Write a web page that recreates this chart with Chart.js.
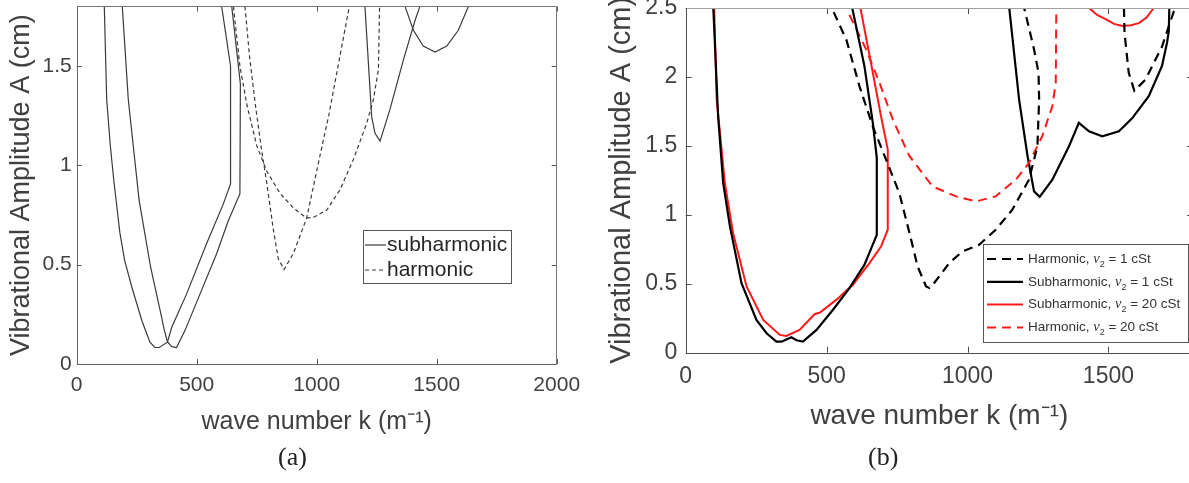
<!DOCTYPE html>
<html lang="en">
<head>
<meta charset="UTF-8" />
<title>Vibrational amplitude vs wave number</title>
<script src="https://cdn.jsdelivr.net/npm/chart.js"></script>
<style>
  html, body { margin: 0; padding: 0; background: #fff; }
  body { width: 1189px; height: 483px; overflow: hidden; position: relative; }
  .panel { position: absolute; top: 0; width: 600px; height: 483px; }
  #panel-a { left: 0; }
  #panel-b { left: 600px; }
  .caption { position: absolute; top: 444px; font: 26px/1 "Liberation Serif", "Times New Roman", serif; color: #222; }
</style>
</head>
<body>
  <div class="panel" id="panel-a"><canvas id="chart-a"></canvas></div>
  <div class="panel" id="panel-b"><canvas id="chart-b"></canvas></div>
  <div class="caption" style="left:278px">(a)</div>
  <div class="caption" style="left:868px">(b)</div>

<script>
// ---- panel (a) ----
const xTicksA = [0, 500, 1000, 1500, 2000];
const yTicksA = [0, 0.5, 1, 1.5];

const subOuterK = [115, 125, 140, 155, 180, 200, 229, 271, 305, 326, 344, 378, 396, 458, 541, 611, 641, 641, 604];
const subOuterA = [1.8, 1.33, 1.1, 0.92, 0.66, 0.52, 0.39, 0.22, 0.11, 0.084, 0.083, 0.11, 0.185, 0.353, 0.605, 0.806, 0.906, 1.5, 1.8];
const subInnerK = [190, 215, 260, 308, 354, 364, 378, 396, 416, 451, 514, 583, 632, 680, 682, 646];
const subInnerA = [1.8, 1.33, 0.825, 0.487, 0.235, 0.176, 0.112, 0.087, 0.083, 0.168, 0.353, 0.555, 0.722, 0.856, 1.41, 1.8];
const subTongue2K = [1201, 1229, 1243, 1264, 1305, 1361, 1410, 1430];
const subTongue2A = [1.8, 1.245, 1.161, 1.122, 1.28, 1.53, 1.73, 1.8];
const subTongue3K = [1368, 1403, 1444, 1493, 1542, 1590, 1632];
const subTongue3A = [1.8, 1.68, 1.6, 1.57, 1.6, 1.68, 1.8];
const harmDeepK = [701, 720, 745, 770, 792, 819, 840, 864, 903, 958, 1005, 1050, 1089, 1136];
const harmDeepA = [1.8, 1.55, 1.3, 1.08, 0.91, 0.68, 0.53, 0.476, 0.557, 0.734, 1.0, 1.25, 1.5, 1.8];
const harmWideK = [653, 680, 710, 750, 792, 847, 903, 958, 990, 1042, 1097, 1153, 1208, 1236, 1257, 1262];
const harmWideA = [1.8, 1.5, 1.3, 1.1, 0.97, 0.86, 0.785, 0.734, 0.74, 0.775, 0.877, 1.03, 1.21, 1.33, 1.48, 1.8];

// ---- panel (b) ----
const xTicksB = [0, 500, 1000, 1500];
const yTicksB = [0, 0.5, 1, 1.5, 2, 2.5];

const harm1K = [525, 570, 617, 664, 711, 758, 794, 823, 853, 865, 876, 935, 982, 1041, 1100, 1159, 1218, 1248, 1254, 1252, 1236, 1201];
const harm1A = [2.47, 2.27, 1.93, 1.64, 1.40, 1.158, 0.868, 0.625, 0.48, 0.47, 0.49, 0.65, 0.734, 0.783, 0.892, 1.037, 1.255, 1.497, 1.836, 2.03, 2.2, 2.5];
const harm1bK = [1555, 1557, 1572, 1592, 1631, 1690, 1731, 1738];
const harm1bA = [2.5, 2.32, 2.03, 1.9, 1.98, 2.22, 2.47, 2.5];
const sub1K = [98, 115, 133, 157, 198, 251, 287, 322, 340, 375, 393, 416, 464, 522, 581, 634, 678, 678, 664, 634, 591];
const sub1A = [2.5, 1.715, 1.23, 0.916, 0.504, 0.238, 0.141, 0.08, 0.08, 0.112, 0.09, 0.08, 0.165, 0.31, 0.468, 0.637, 0.855, 1.413, 1.667, 2.08, 2.5];
const sub1bK = [1148, 1183, 1213, 1236, 1256, 1301, 1360, 1395, 1431, 1478, 1537, 1584, 1643, 1690, 1708, 1714, 1716];
const sub1bA = [2.5, 1.836, 1.425, 1.17, 1.13, 1.255, 1.497, 1.667, 1.606, 1.57, 1.606, 1.70, 1.86, 2.08, 2.25, 2.33, 2.5];
const sub20K = [101, 110, 139, 168, 216, 275, 334, 357, 404, 458, 475, 534, 593, 652, 693, 717, 717, 693, 664, 620];
const sub20A = [2.5, 1.836, 1.23, 0.868, 0.48, 0.238, 0.129, 0.121, 0.165, 0.281, 0.29, 0.383, 0.492, 0.65, 0.77, 0.892, 1.473, 1.715, 2.03, 2.5];
const sub20bK = [1431, 1460, 1490, 1520, 1549, 1580, 1608, 1635, 1661];
const sub20bA = [2.5, 2.45, 2.42, 2.385, 2.37, 2.375, 2.39, 2.43, 2.5];
const harm20K = [581, 640, 688, 735, 794, 876, 959, 1030, 1100, 1171, 1218, 1265, 1301, 1313, 1315];
const harm20A = [2.45, 2.2, 1.956, 1.69, 1.425, 1.206, 1.134, 1.097, 1.134, 1.255, 1.376, 1.57, 1.788, 1.958, 2.5];

const FONT = '"Liberation Sans", Arial, Helvetica, sans-serif';
const TEXT = '#404040';

const pts = (ks, as) => ks.map((k, i) => ({x: k, y: as[i]}));

function line(ks, as, color, width, dash, label) {
  return {
    label: label,
    data: pts(ks, as),
    showLine: true,
    borderColor: color,
    borderWidth: width,
    borderDash: dash || [],
    pointRadius: 0,
    tension: 0,
    fill: false,
    clip: 0
  };
}

// MATLAB style box: border on all sides and inward ticks
const boxAxes = {
  id: 'boxAxes',
  afterDatasetsDraw(chart, args, opts) {
    const {ctx, chartArea: {left, right, top, bottom}, scales: {x, y}} = chart;
    const len = opts.tickLength;
    ctx.save();
    ctx.lineWidth = 1;
    ctx.strokeStyle = opts.tickColor;
    ctx.beginPath();
    x.ticks.forEach(t => {
      const px = Math.round(x.getPixelForValue(t.value)) + 0.5;
      ctx.moveTo(px, bottom); ctx.lineTo(px, bottom - len);
      ctx.moveTo(px, top); ctx.lineTo(px, top + len);
    });
    y.ticks.forEach(t => {
      const py = Math.round(y.getPixelForValue(t.value)) + 0.5;
      ctx.moveTo(left, py); ctx.lineTo(left + len, py);
      ctx.moveTo(right, py); ctx.lineTo(right - len, py);
    });
    ctx.stroke();
    const L = Math.round(left) + 0.5, R = Math.round(right) - 0.5;
    const T = Math.round(top) + 0.5, B = Math.round(bottom) + 0.5;
    const sides = [
      [opts.colors.top, L, T, R, T],
      [opts.colors.right, R, T, R, B],
      [opts.colors.bottom, L, B, R, B],
      [opts.colors.left, L, T, L, B]
    ];
    sides.forEach(([c, x0, y0, x1, y1]) => {
      ctx.strokeStyle = c;
      ctx.beginPath(); ctx.moveTo(x0, y0); ctx.lineTo(x1, y1); ctx.stroke();
    });
    ctx.restore();
  }
};

// legend box drawn inside the axes, entries taken from labelled datasets
const boxLegend = {
  id: 'boxLegend',
  afterDatasetsDraw(chart, args, o) {
    const {ctx} = chart;
    const items = chart.data.datasets.filter(d => d.label);
    ctx.save();
    ctx.fillStyle = '#fff';
    ctx.fillRect(o.x, o.y, o.w, o.h);
    ctx.strokeStyle = o.border;
    ctx.lineWidth = 1;
    ctx.strokeRect(o.x + 0.5, o.y + 0.5, o.w, o.h);
    items.forEach((d, i) => {
      const cy = o.y + o.firstRow + i * o.rowGap;
      ctx.strokeStyle = d.borderColor;
      ctx.lineWidth = d.borderWidth;
      ctx.setLineDash(d.borderDash);
      ctx.beginPath();
      ctx.moveTo(o.x + o.lineX0, cy);
      ctx.lineTo(o.x + o.lineX1, cy);
      ctx.stroke();
      ctx.setLineDash([]);

      ctx.fillStyle = o.color;
      ctx.textBaseline = 'middle';
      let tx = o.x + o.textX;
      const parts = d.label.split('ν₂');
      ctx.font = o.size + 'px ' + FONT;
      ctx.fillText(parts[0], tx, cy);
      tx += ctx.measureText(parts[0]).width;
      if (parts.length > 1) {
        ctx.font = 'italic ' + (o.size + 1) + 'px "Liberation Serif", serif';
        ctx.fillText('ν', tx, cy);
        tx += ctx.measureText('ν').width;
        ctx.font = Math.round(o.size * 0.7) + 'px ' + FONT;
        ctx.fillText('2', tx, cy + o.size * 0.4);
        tx += ctx.measureText('2').width;
        ctx.font = o.size + 'px ' + FONT;
        ctx.fillText(parts[1], tx, cy);
      }
    });
    ctx.restore();
  }
};

function axes(c) {
  return {
    x: {
      type: 'linear', position: 'bottom', min: 0, max: c.xMax,
      afterBuildTicks: s => { s.ticks = c.xTicks.map(v => ({value: v})); },
      afterFit: s => { s.height = c.xHeight; s.paddingLeft = 0; s.paddingRight = 0; },
      grid: {display: false, drawTicks: false},
      border: {display: false},
      ticks: {color: TEXT, font: {family: FONT, size: c.tickSize}, padding: c.xPad, maxRotation: 0, callback: v => String(v)},
      title: {display: true, text: 'wave number k (m⁻¹)', color: TEXT, font: {family: FONT, size: c.xTitleSize}, padding: {top: 0, bottom: c.xTitlePad}}
    },
    y: {
      type: 'linear', min: 0, max: c.yMax,
      afterBuildTicks: s => { s.ticks = c.yTicks.map(v => ({value: v})); },
      afterFit: s => { s.width = c.yWidth; s.paddingTop = 0; s.paddingBottom = 0; },
      grid: {display: false, drawTicks: false},
      border: {display: false},
      ticks: {color: TEXT, font: {family: FONT, size: c.tickSize}, padding: c.yPad, callback: v => String(v)},
      title: {display: true, text: 'Vibrational Amplitude A (cm)', color: TEXT, font: {family: FONT, size: c.yTitleSize}, padding: {top: c.yTitlePad, bottom: 0}}
    }
  };
}

const gA = '#3a3a3a';
new Chart(document.getElementById('chart-a'), {
  type: 'scatter',
  data: {
    datasets: [
      line(subOuterK, subOuterA, gA, 1.2, [], 'subharmonic'),
      line(harmDeepK, harmDeepA, gA, 1.2, [4, 3], 'harmonic'),
      line(subInnerK, subInnerA, gA, 1.2),
      line(subTongue2K, subTongue2A, gA, 1.2),
      line(subTongue3K, subTongue3A, gA, 1.2),
      line(harmWideK, harmWideA, gA, 1.2, [4, 3])
    ]
  },
  options: {
    responsive: true,
    maintainAspectRatio: false,
    animation: false,
    layout: {padding: {left: 0, top: 6.4, right: 43.3, bottom: 0}},
    scales: axes({xMax: 2000, yMax: 1.8, xTicks: xTicksA, yTicks: yTicksA, xHeight: 119, yWidth: 76.7,
      tickSize: 21, xPad: 9, yPad: 5, xTitleSize: 25, xTitlePad: 46, yTitleSize: 27, yTitlePad: 5.5}),
    plugins: {
      legend: {display: false},
      tooltip: {enabled: false},
      boxAxes: {tickLength: 5, tickColor: '#555', colors: {top: '#777', right: '#777', bottom: '#666', left: '#666'}},
      boxLegend: {x: 363, y: 230, w: 148, h: 53, firstRow: 15, rowGap: 25, lineX0: 2, lineX1: 23, textX: 24,
        size: 21, color: '#262626', border: '#555'}
    }
  },
  plugins: [boxAxes, boxLegend]
});

new Chart(document.getElementById('chart-b'), {
  type: 'scatter',
  data: {
    datasets: [
      line(harm1K, harm1A, '#000', 2.2, [9, 6], 'Harmonic, ν₂ = 1 cSt'),
      line(sub1K, sub1A, '#000', 2.2, [], 'Subharmonic, ν₂ = 1 cSt'),
      line(sub20K, sub20A, '#ff1a1a', 2, [], 'Subharmonic, ν₂ = 20 cSt'),
      line(harm20K, harm20A, '#ff1a1a', 2, [9, 6], 'Harmonic, ν₂ = 20 cSt'),
      line(harm1bK, harm1bA, '#000', 2.2, [9, 6]),
      line(sub1bK, sub1bA, '#000', 2.2),
      line(sub20bK, sub20bA, '#ff1a1a', 2)
    ]
  },
  options: {
    responsive: true,
    maintainAspectRatio: false,
    animation: false,
    layout: {padding: {left: 0, top: 8, right: 7, bottom: 0}},
    scales: axes({xMax: 1800, yMax: 2.5, xTicks: xTicksB, yTicks: yTicksB, xHeight: 130.3, yWidth: 85.7,
      tickSize: 23, xPad: 10, yPad: 8.5, xTitleSize: 28, xTitlePad: 50, yTitleSize: 29, yTitlePad: 5}),
    plugins: {
      legend: {display: false},
      tooltip: {enabled: false},
      boxAxes: {tickLength: 6, tickColor: '#4d4d4d', colors: {top: '#a0a0a0', right: '#4d4d4d', bottom: '#4d4d4d', left: '#4d4d4d'}},
      boxLegend: {x: 383, y: 244, w: 205, h: 98, firstRow: 15, rowGap: 22.8, lineX0: 4, lineX1: 40, textX: 45,
        size: 13.5, color: '#333', border: '#555'}
    }
  },
  plugins: [boxAxes, boxLegend]
});
</script>
</body>
</html>
